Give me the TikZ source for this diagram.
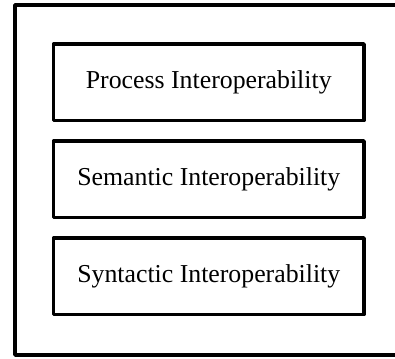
\documentclass[tikz,border=0pt]{standalone}
\usepackage{fontspec}
\setmainfont{Liberation Serif}
\usetikzlibrary{positioning}

\tikzset{
    layerbox/.style={draw, line width=1.75pt, line join=round, minimum width=155.25pt,
        minimum height=38.25pt, inner sep=0pt, font=\fontsize{12.9}{15}\selectfont}
}

\begin{document}
\begin{tikzpicture}[x=0.5pt, y=-0.5pt]

    % Fix the picture size (pixel grid of the reference)
    \useasboundingbox (0,0) rectangle (395,358);

    % Draw outer frame (right side runs off the picture)
    \node[draw, line width=1.75pt, line join=round, minimum width=202.5pt,
        minimum height=175pt, inner sep=0pt] (frame) at (217.5,180) {};

    % Draw the three layers, top to bottom
    \node[layerbox] (process) at (208.75,82.25) {Process Interoperability};
    \node[layerbox, below=8.5pt of process] (semantic) {Semantic Interoperability};
    \node[layerbox, below=8.5pt of semantic] (syntactic) {Syntactic Interoperability};

\end{tikzpicture}
\end{document}
